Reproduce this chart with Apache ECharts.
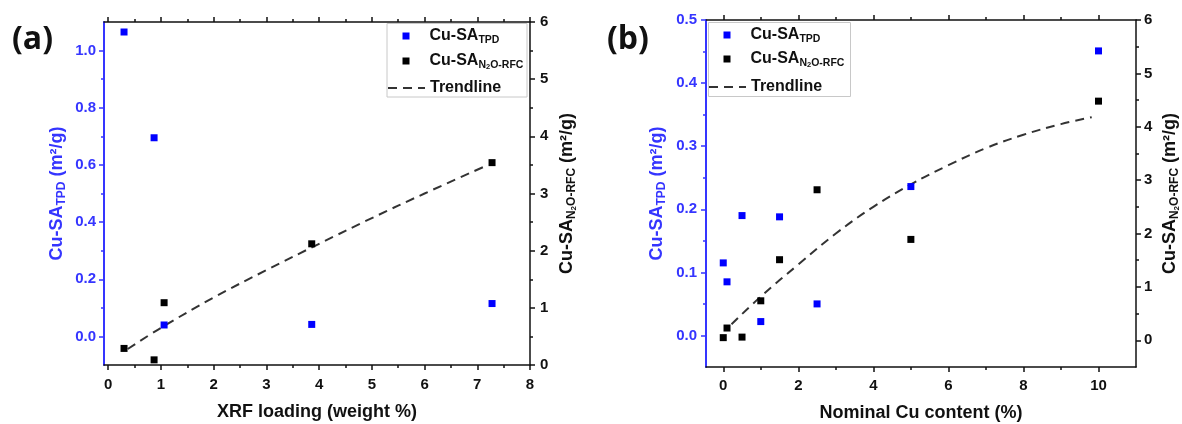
<!DOCTYPE html>
<html><head><meta charset="utf-8">
<script src="https://cdn.jsdelivr.net/npm/echarts@6/dist/echarts.min.js"></script>
<style>html,body{margin:0;padding:0;background:#fff}#c{width:1182px;height:424px}</style>
</head><body><div id="c"></div>
<script>
// ---------- Data ----------
// Panel (a): XRF loading
const xrfLoading = [0.3, 0.87, 1.06, 3.86, 7.28];
const tpdA = [1.065, 0.695, 0.04, 0.042, 0.115];
const rfcA = [0.29, 0.09, 1.09, 2.12, 3.54];
const trendAx = [0.37, 1, 2, 3, 4, 5, 6, 7.18];
const trendAy = [0.28, 0.65, 1.18, 1.66, 2.12, 2.57, 3.0, 3.49];
// Panel (b): nominal Cu content
const nominalCu = [0, 0.1, 0.5, 1, 1.5, 2.5, 5, 10];
const tpdB = [0.115, 0.085, 0.19, 0.022, 0.188, 0.05, 0.236, 0.451];
const rfcB = [0.05, 0.23, 0.06, 0.74, 1.51, 2.82, 1.89, 4.48];
const trendBx = [0.22, 1, 2, 3, 4, 5, 6, 7, 8, 9, 9.82];
const trendBy = [0.3, 0.82, 1.42, 2.0, 2.5, 2.92, 3.28, 3.6, 3.85, 4.05, 4.18];
// Tick values
const xTicksA = [0, 1, 2, 3, 4, 5, 6, 7, 8];
const xMinorA = [0.5, 1.5, 2.5, 3.5, 4.5, 5.5, 6.5, 7.5];
const yLeftTicksA = [0, 0.2, 0.4, 0.6, 0.8, 1.0];
const yLeftMinorA = [0.1, 0.3, 0.5, 0.7, 0.9];
const yRightTicks = [0, 1, 2, 3, 4, 5, 6];
const yRightMinor = [0.5, 1.5, 2.5, 3.5, 4.5, 5.5];
const xTicksB = [0, 2, 4, 6, 8, 10];
const xMinorB = [1, 3, 5, 7, 9];
const yLeftTicksB = [0, 0.1, 0.2, 0.3, 0.4, 0.5];
const yLeftMinorB = [0.05, 0.15, 0.25, 0.35, 0.45];
const xTitleA = 'XRF loading (weight %)';
const xTitleB = 'Nominal Cu content (%)';

// ---------- Styling ----------
const FONT = '"Liberation Sans", Arial, sans-serif';
const AXBLUE = '#3535ff';
const PTBLUE = '#0000ff';
const BLACK = '#111111';

function titleRich(color) {
  return {
    m: {fontSize: 18, fontWeight: 'bold', fontFamily: FONT, color: color, lineHeight: 22},
    s: {fontSize: 12, fontWeight: 'bold', fontFamily: FONT, color: color, lineHeight: 11, verticalAlign: 'bottom'},
    ss: {fontSize: 8, fontWeight: 'bold', fontFamily: FONT, color: color, lineHeight: 6, verticalAlign: 'bottom'}
  };
}

function makeAxes(gridIndex, position, min, max, major, minor, o) {
  const color = o.color || BLACK;
  const majorAx = {
    type: 'value', gridIndex, position, min, max,
    axisLine: {show: true, onZero: false, lineStyle: {color, width: o.lineWidth || 1.5}},
    axisTick: {show: true, inside: false, length: 5, customValues: major, lineStyle: {color, width: 1.5}},
    axisLabel: {show: !!o.labels, customValues: major, margin: o.margin || 8,
      formatter: o.fmt || (v => String(v)),
      color, fontSize: 15, fontWeight: 'bold', fontFamily: FONT},
    splitLine: {show: false}, minorTick: {show: false}
  };
  if (o.name) {
    Object.assign(majorAx, {
      name: o.name, nameLocation: 'middle', nameGap: o.nameGap, nameRotate: o.nameRotate,
      nameMoveOverlap: false,
      nameTextStyle: {color, fontSize: 18, fontWeight: 'bold', fontFamily: FONT, rich: titleRich(color)}
    });
  }
  const minorAx = {
    type: 'value', gridIndex, position, min, max,
    axisLine: {show: false, onZero: false},
    axisTick: {show: true, inside: false, length: 3, customValues: minor, lineStyle: {color, width: 1.5}},
    axisLabel: {show: false}, splitLine: {show: false}
  };
  return [majorAx, minorAx];
}

const f1 = v => v.toFixed(1);
const xAxes = [].concat(
  makeAxes(0, 'bottom', -0.08, 8, xTicksA, xMinorA, {labels: true, margin: 12, name: xTitleA, nameGap: 38}),
  makeAxes(0, 'top', -0.08, 8, xTicksA, xMinorA, {}),
  makeAxes(1, 'bottom', -0.46, 11, xTicksB, xMinorB, {labels: true, margin: 11, name: xTitleB, nameGap: 37}),
  makeAxes(1, 'top', -0.46, 11, xTicksB, xMinorB, {})
);
const yAxes = [].concat(
  makeAxes(0, 'left', -0.1, 1.1, yLeftTicksA, yLeftMinorA, {labels: true, margin: 8, fmt: f1, color: AXBLUE, lineWidth: 2,
    name: '{m|Cu-SA}{s|TPD}{m| (m²/g)}', nameGap: 36, nameRotate: 90}),
  makeAxes(0, 'right', 0, 6, yRightTicks, yRightMinor, {labels: true, margin: 10,
    name: '{m|Cu-SA}{s|N}{ss|2}{s|O-RFC}{m| (m²/g)}', nameGap: 26, nameRotate: 90}),
  makeAxes(1, 'left', -0.05, 0.5, yLeftTicksB, yLeftMinorB, {labels: true, margin: 9, fmt: f1, color: AXBLUE, lineWidth: 2,
    name: '{m|Cu-SA}{s|TPD}{m| (m²/g)}', nameGap: 38, nameRotate: 90}),
  makeAxes(1, 'right', -0.5, 6, yRightTicks, yRightMinor, {labels: true, margin: 8,
    name: '{m|Cu-SA}{s|N}{ss|2}{s|O-RFC}{m| (m²/g)}', nameGap: 23, nameRotate: 90})
);
// axis indices: x: grid0 bottom=0, grid1 bottom=4 ; y: grid0 left=0, right=2 ; grid1 left=4, right=6

const zip = (xs, ys) => xs.map((x, i) => [x, ys[i]]);
const dash = {color: '#333333', width: 2, type: [9, 6]};
function scatter(name, xi, yi, xs, ys, color) {
  return {type: 'scatter', name, xAxisIndex: xi, yAxisIndex: yi, data: zip(xs, ys),
    symbol: 'rect', symbolSize: 7, itemStyle: {color, opacity: 1}, z: 5, silent: true};
}
function trend(xi, yi, xs, ys) {
  return {type: 'line', name: 'Trendline', xAxisIndex: xi, yAxisIndex: yi, data: zip(xs, ys),
    symbol: 'none', smooth: 0.4, lineStyle: dash, itemStyle: {color: '#333333', opacity: 0}, z: 3, silent: true};
}
const series = [
  trend(0, 2, trendAx, trendAy),
  scatter('TPD', 0, 0, xrfLoading, tpdA, PTBLUE),
  scatter('RFC', 0, 2, xrfLoading, rfcA, '#000000'),
  trend(4, 6, trendBx, trendBy),
  scatter('TPD', 4, 4, nominalCu, tpdB, PTBLUE),
  scatter('RFC', 4, 6, nominalCu, rfcB, '#000000')
];

const sq = 'path://M0,0L10,0L10,10L0,10Z';
const legendRich = {
  m: {fontSize: 16, fontWeight: 'bold', fontFamily: FONT, color: BLACK, lineHeight: 20},
  s: {fontSize: 10.5, fontWeight: 'bold', fontFamily: FONT, color: BLACK, lineHeight: 10, verticalAlign: 'bottom'},
  ss: {fontSize: 7.5, fontWeight: 'bold', fontFamily: FONT, color: BLACK, lineHeight: 5, verticalAlign: 'bottom'}
};
const legendLabels = {
  TPD: '{m|Cu-SA}{s|TPD}',
  RFC: '{m|Cu-SA}{s|N}{ss|2}{s|O-RFC}',
  Trendline: '{m|Trendline}'
};
function legendRow(left, top, item) {
  return {
    orient: 'vertical', left, top, padding: 0, itemWidth: 37, itemHeight: 7,
    selectedMode: false, symbolKeepAspect: true,
    data: [item],
    formatter: n => legendLabels[n],
    textStyle: {rich: legendRich, fontSize: 16, fontFamily: FONT, fontWeight: 'bold', color: BLACK}
  };
}
// the square icon's bounding box starts 15 px inside the 37 px icon slot
function legendSet(left, tops) {
  return [
    legendRow(left + 15.5, tops[0], {name: 'TPD', icon: sq}),
    legendRow(left + 15.5, tops[1], {name: 'RFC', icon: sq}),
    legendRow(left, tops[2], {name: 'Trendline', itemStyle: {opacity: 0}})
  ];
}

const chart = echarts.init(document.getElementById('c'), null, {renderer: 'canvas'});
chart.setOption({
  animation: false,
  backgroundColor: '#ffffff',
  grid: [
    {left: 104, top: 22, width: 426, height: 343, outerBoundsMode: 'none', containLabel: false},
    {left: 706, top: 20, width: 430, height: 347, outerBoundsMode: 'none', containLabel: false}
  ],
  xAxis: xAxes,
  yAxis: yAxes,
  legend: [].concat(legendSet(387, [28, 53, 80]), legendSet(708, [27, 51, 79])),
  series,
  graphic: [
    {type: 'text', left: 12, top: 24, style: {text: '(a)', font: 'bold 32px "Open Sans", sans-serif', fill: '#111'}},
    {type: 'text', left: 607, top: 24, style: {text: '(b)', font: 'bold 32px "Open Sans", sans-serif', fill: '#111'}},
    {type: 'rect', shape: {x: 387, y: 23.5, width: 140, height: 73.5}, style: {fill: 'none', stroke: '#c8c8c8', lineWidth: 1}, z: 1},
    {type: 'rect', shape: {x: 708.5, y: 22.5, width: 142, height: 74}, style: {fill: 'none', stroke: '#c8c8c8', lineWidth: 1}, z: 1}
  ]
});
</script></body></html>
